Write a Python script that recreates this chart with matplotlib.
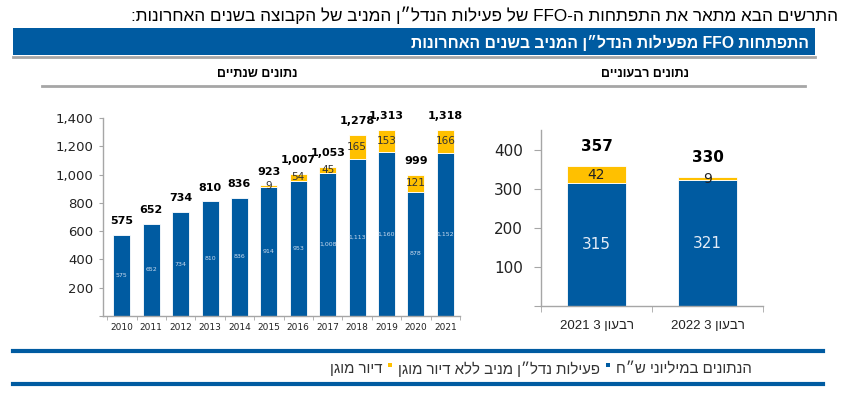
import re
import numpy as np
import matplotlib
matplotlib.use("Agg")
import matplotlib.pyplot as plt
from matplotlib.patches import Rectangle
from matplotlib.lines import Line2D

# annual data (NIS millions)
years = [2010, 2011, 2012, 2013, 2014, 2015, 2016, 2017, 2018, 2019, 2020, 2021]
core_year = [575, 652, 734, 810, 836, 914, 953, 1008, 1113, 1160, 878, 1152]
senior_year = [0, 0, 0, 0, 0, 9, 54, 45, 165, 153, 121, 166]

# quarterly data
quarters = ['רבעון 3 2021', 'רבעון 3 2022']
core_q = [315, 321]
senior_q = [42, 9]

title_top = 'התרשים הבא מתאר את התפתחות ה-FFO של פעילות הנדל״ן המניב של הקבוצה בשנים האחרונות:'
title_banner = 'התפתחות FFO מפעילות הנדל״ן המניב בשנים האחרונות'
sub_q = 'נתונים רבעוניים'
sub_y = 'נתונים שנתיים'
leg_units = 'הנתונים במיליוני ש״ח'
leg_core = 'פעילות נדל״ן מניב ללא דיור מוגן'
leg_senior = 'דיור מוגן'

BLUE = '#005BA1'
YELLOW = '#FFC000'
GRAY = '#A6A6A6'
HEB = ['Liberation Sans', 'DejaVu Sans']


def vis(s):
    # crude visual ordering for RTL text (matplotlib has no bidi)
    parts = re.findall(r'[A-Za-z0-9]+(?:[.,][0-9]+)*|[^A-Za-z0-9]+', s)
    out = []
    for p in reversed(parts):
        if re.match(r'[A-Za-z0-9]', p):
            out.append(p)
        else:
            out.append(p[::-1])
    return ''.join(out)


W, H = 848, 393
def fx(x): return x / W
def fy(y): return 1 - y / H


fig = plt.figure(figsize=(W / 100, H / 100), dpi=100)

# header text and banner
fig.text(fx(838), fy(15), vis(title_top), ha='right', va='center',
         fontsize=12.3, family=HEB, color='black')
fig.add_artist(Rectangle((fx(13), fy(55)), fx(815) - fx(13), fy(28) - fy(55),
                         transform=fig.transFigure, color=BLUE, lw=0))
fig.add_artist(Line2D([fx(13), fx(815)], [fy(57), fy(57)], color=GRAY, lw=2))
fig.text(fx(809), fy(43), vis(title_banner), ha='right', va='center',
         fontsize=11.3, weight='bold', family=HEB, color='white')
fig.text(fx(645), fy(74), vis(sub_q), ha='center', va='center',
         fontsize=9, weight='bold', family=HEB, color='black')
fig.text(fx(257), fy(74), vis(sub_y), ha='center', va='center',
         fontsize=9, weight='bold', family=HEB, color='black')
fig.add_artist(Line2D([fx(42), fx(805)], [fy(86), fy(86)], color=GRAY, lw=2))

# ---- annual chart ----
ax1 = fig.add_axes([fx(103), fy(316), fx(460) - fx(103), fy(118) - fy(316)])
x = np.arange(len(years))
ax1.bar(x, core_year, width=0.58, color=BLUE, edgecolor='white', linewidth=0.6)
sx = [i for i in x if senior_year[i] > 0]
ax1.bar(sx, [senior_year[i] for i in sx], bottom=[core_year[i] for i in sx],
        width=0.58, color=YELLOW, edgecolor='white', linewidth=0.6)
for i in x:
    c, s = core_year[i], senior_year[i]
    ax1.text(i, c / 2, f'{c:,}', ha='center', va='center', fontsize=4.5,
             color='#C9DAEE')
    if s > 0:
        ax1.text(i, c + s / 2, f'{s:,}', ha='center', va='center', fontsize=7.5,
                 color='#333333')
    ax1.annotate(f'{c + s:,}', (i, c + s), xytext=(0, 10), textcoords='offset points',
                 ha='center', va='center', fontsize=8, weight='bold', color='black')
ax1.set_xlim(-0.64, 11.5)
ax1.set_ylim(0, 1400)
yt = list(range(0, 1401, 200))
ax1.set_yticks(yt, ['' if v == 0 else f'{v:,}' for v in yt])
ax1.set_xticks(x, [str(y) for y in years])
ax1.set_xticks(np.arange(-0.5, 11.6, 1), minor=True)
ax1.tick_params(axis='x', which='major', length=0, labelsize=6.5, pad=5, labelcolor='#222222')
ax1.tick_params(axis='x', which='minor', length=3, color=GRAY)
ax1.tick_params(axis='y', length=3, color=GRAY, labelsize=9.5, pad=4, labelcolor='#222222')

# ---- quarterly chart ----
ax2 = fig.add_axes([fx(541), fy(306), fx(763) - fx(541), fy(130) - fy(306)])
q = np.arange(len(quarters))
ax2.bar(q, core_q, width=0.54, color=BLUE, edgecolor='white', linewidth=0.6)
ax2.bar(q, senior_q, bottom=core_q, width=0.54, color=YELLOW, edgecolor='white',
        linewidth=0.6)
for i in q:
    c, s = core_q[i], senior_q[i]
    ax2.text(i, c / 2, f'{c}', ha='center', va='center', fontsize=11, color='#E4ECF7')
    ax2.text(i, c + s / 2, f'{s}', ha='center', va='center', fontsize=10, color='#222222')
    ax2.annotate(f'{c + s}', (i, c + s), xytext=(0, 14), textcoords='offset points',
                 ha='center', va='center', fontsize=11, weight='bold', color='black')
ax2.set_xlim(-0.5, 1.5)
ax2.set_ylim(0, 450)
yt2 = [0, 100, 200, 300, 400]
ax2.set_yticks(yt2, ['' if v == 0 else str(v) for v in yt2])
ax2.set_xticks(q, [vis(t) for t in quarters])
ax2.set_xticks([-0.5, 0.5, 1.5], minor=True)
ax2.tick_params(axis='x', which='major', length=0, labelsize=9.5, pad=10, labelcolor='#222222')
ax2.tick_params(axis='x', which='minor', length=4, color=GRAY)
ax2.tick_params(axis='y', length=5, color=GRAY, labelsize=11, pad=8, labelcolor='#222222')
for lab in ax2.get_xticklabels():
    lab.set_family(HEB)

for ax in (ax1, ax2):
    for side in ('top', 'right'):
        ax.spines[side].set_visible(False)
    for side in ('left', 'bottom'):
        ax.spines[side].set_color(GRAY)
        ax.spines[side].set_linewidth(1)

# ---- footer legend ----
fig.add_artist(Line2D([fx(13), fx(823)], [fy(351), fy(351)], color=BLUE, lw=3))
fig.add_artist(Line2D([fx(13), fx(823)], [fy(384), fy(384)], color=BLUE, lw=3))

fig.canvas.draw()
r = fig.canvas.get_renderer()
xr = 752
pieces = [(leg_units, BLUE), (leg_core, YELLOW), (leg_senior, None)]
for txt, sq in pieces:
    t = fig.text(fx(xr), fy(369), vis(txt), ha='right', va='center', fontsize=10.8,
                 family=HEB, color='#333333')
    bb = t.get_window_extent(r)
    xr = bb.x0 - 6
    if sq is not None:
        fig.add_artist(Rectangle((fx(xr - 4), fy(367)), 4 / W, 4 / H,
                                 transform=fig.transFigure, color=sq, lw=0))
        xr = xr - 10

fig.savefig('out.png', dpi=100)
